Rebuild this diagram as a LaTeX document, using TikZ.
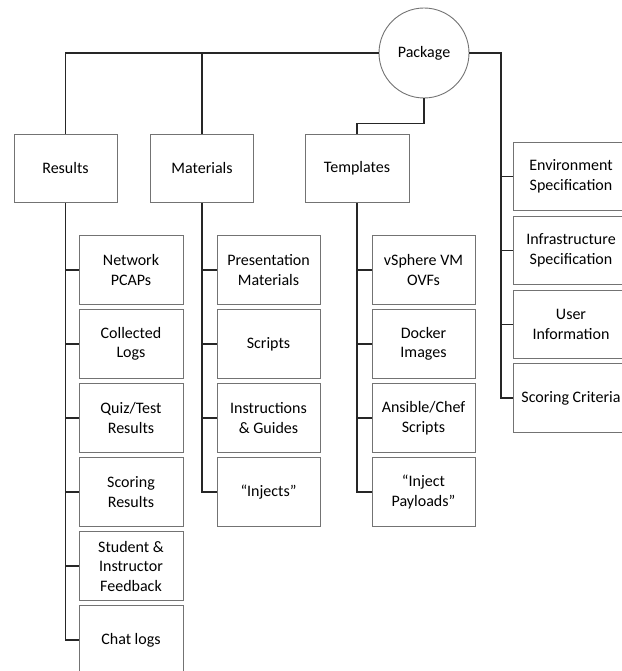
\documentclass[tikz,border=0pt]{standalone}
\usepackage{fontspec}
\setmainfont{Carlito}
\begin{document}
\begin{tikzpicture}[x=1pt,y=-1pt,
  every node/.style={font=\fontsize{16}{19.5}\selectfont, align=center, inner sep=0pt},
  box/.style={draw=black!55, line width=0.9pt, fill=white, minimum width=103pt, minimum height=68.5pt},
  sidebox/.style={box, minimum width=116pt},
  hub/.style={draw=black!55, line width=0.9pt, fill=white, circle, minimum size=90pt},
  link/.style={draw=black!85, line width=1.4pt}
]
\useasboundingbox (0,0) rectangle (621,671);

% connectors first, so boxes sit on top
\coordinate (rs) at (501,53);

% root
\node[hub] (pkg) at (424,53) {Package};

% first level
\node[box] (res) at (65.5,168.5) {Results};
\node[box] (mat) at (202,168.5) {Materials};
\node[box, minimum width=104pt] (tpl) at (357,168.5) {Templates};

% right-hand column
\node[sidebox] (env)  at (571,176.5) {Environment\\Specification};
\node[sidebox] (infra) at (571,250.5) {Infrastructure\\Specification};
\node[sidebox] (user) at (571,324.5) {User\\Information};
\node[sidebox] (crit) at (571,398) {Scoring Criteria};

% results children
\node[box, minimum width=104pt] (r1) at (131,270) {Network\\PCAPs};
\node[box, minimum width=104pt] (r2) at (131,344) {Collected\\Logs};
\node[box, minimum width=104pt] (r3) at (131,418) {Quiz/Test\\Results};
\node[box, minimum width=104pt] (r4) at (131,492) {Scoring\\Results};
\node[box, minimum width=104pt] (r5) at (131,566) {Student \&\\Instructor\\Feedback};
\node[box, minimum width=104pt] (r6) at (131,640) {Chat logs};

% materials children
\node[box] (m1) at (268.5,270) {Presentation\\Materials};
\node[box] (m2) at (268.5,344) {Scripts};
\node[box] (m3) at (268.5,418) {Instructions\\\& Guides};
\node[box] (m4) at (268.5,492) {“Injects”};

% templates children
\node[box] (t1) at (423.5,270) {vSphere VM\\OVFs};
\node[box] (t2) at (423.5,344) {Docker\\Images};
\node[box] (t3) at (423.5,418) {Ansible/Chef\\Scripts};
\node[box] (t4) at (423.5,492) {“Inject\\Payloads”};

% root to first level
\draw[link] (pkg.west) -| (res.north);
\draw[link] (mat.north) -- (mat.north |- pkg.west);
\draw[link] (pkg.south) -- ++(0,25) -| (tpl.north);

% root to right column
\draw[link] (pkg.east) -- (rs) |- (crit.west);
\foreach \n in {env,infra,user}
  \draw[link] (rs |- \n.west) -- (\n.west);

% results branch
\draw[link] (res.south) |- (r6.west);
\foreach \n in {r1,r2,r3,r4,r5}
  \draw[link] (res.south |- \n.west) -- (\n.west);

% materials branch
\draw[link] (mat.south) |- (m4.west);
\foreach \n in {m1,m2,m3}
  \draw[link] (mat.south |- \n.west) -- (\n.west);

% templates branch
\draw[link] (tpl.south) |- (t4.west);
\foreach \n in {t1,t2,t3}
  \draw[link] (tpl.south |- \n.west) -- (\n.west);
\end{tikzpicture}
\end{document}
